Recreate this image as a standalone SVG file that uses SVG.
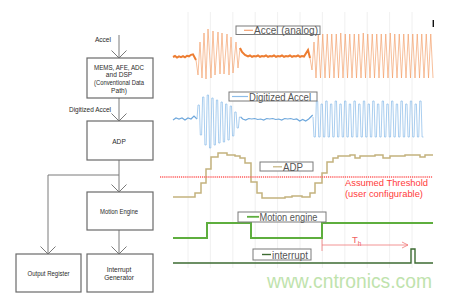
<svg xmlns="http://www.w3.org/2000/svg" width="451" height="299" viewBox="0 0 451 299">
<defs>
<style>
.box{fill:#fff;stroke:#6a6a6a;stroke-width:1.2}
.lt{font-family:"Liberation Sans",Arial,sans-serif;font-size:6.6px;fill:#2a2a2a;text-anchor:middle}
.conn{fill:none;stroke:#7a7a7a;stroke-width:1}
.grid{stroke:#ececec;stroke-width:0.8}
.lg{fill:#fff;stroke:#7a7a7a;stroke-width:1}
.lgt{font-family:"Liberation Sans",Arial,sans-serif;font-size:10.5px;fill:#555}
.ob{fill:none;stroke:#f29a62;stroke-width:0.8;stroke-opacity:0.8}
.bb{fill:none;stroke:#8fbfea;stroke-width:0.9;stroke-opacity:0.85}
.thr{font-family:"Liberation Sans",Arial,sans-serif;font-size:9.5px;fill:#ff3b3b}
</style>
<marker id="chev" markerUnits="userSpaceOnUse" viewBox="-10 -10 20 20" markerWidth="20" markerHeight="20" refX="0" refY="0" orient="auto" overflow="visible">
<path d="M-7.5,-7.5 L0,0 L-7.5,7.5" fill="none" stroke="#7a7a7a" stroke-width="1"/>
</marker>
</defs>
<rect width="451" height="299" fill="#fff"/>

<g id="connectors">
<line class="conn" x1="119" y1="35" x2="119" y2="58" marker-end="url(#chev)"/>
<line class="conn" x1="119" y1="98" x2="119" y2="121" marker-end="url(#chev)"/>
<line class="conn" x1="119" y1="160" x2="119" y2="192" marker-end="url(#chev)"/>
<polyline class="conn" points="119,175 48,175 48,254" marker-end="url(#chev)"/>
<line class="conn" x1="119" y1="230" x2="119" y2="254" marker-end="url(#chev)"/>
<text class="lt" x="111" y="41.5" style="text-anchor:end">Accel</text>
<text class="lt" x="111" y="112" style="text-anchor:end" textLength="42" lengthAdjust="spacingAndGlyphs">Digitized Accel</text>
</g>

<g id="node-mems">
<rect class="box" x="87" y="58" width="66" height="40"/>
<text class="lt" x="119" y="69.5" textLength="50" lengthAdjust="spacingAndGlyphs">MEMS, AFE, ADC</text>
<text class="lt" x="119" y="77.3">and DSP</text>
<text class="lt" x="119" y="85" textLength="50" lengthAdjust="spacingAndGlyphs">(Conventional Data</text>
<text class="lt" x="119" y="92.7">Path)</text>
</g>
<g id="node-adp">
<rect class="box" x="87" y="121" width="66" height="39"/>
<text class="lt" x="119" y="144">ADP</text>
</g>
<g id="node-motion">
<rect class="box" x="87" y="192" width="66" height="38"/>
<text class="lt" x="119" y="214" textLength="38" lengthAdjust="spacingAndGlyphs">Motion Engine</text>
</g>
<g id="node-outreg">
<rect class="box" x="16" y="254" width="65" height="38"/>
<text class="lt" x="48.5" y="276" textLength="42" lengthAdjust="spacingAndGlyphs">Output Register</text>
</g>
<g id="node-intgen">
<rect class="box" x="87" y="254" width="66" height="38"/>
<text class="lt" x="119" y="271.5">Interrupt</text>
<text class="lt" x="119" y="279.5">Generator</text>
</g>

<g id="chart">
<g id="grid">
<line class="grid" x1="188" y1="12" x2="188" y2="268"/>
<line class="grid" x1="210.4" y1="12" x2="210.4" y2="268"/>
<line class="grid" x1="232.8" y1="12" x2="232.8" y2="268"/>
<line class="grid" x1="255.2" y1="12" x2="255.2" y2="268"/>
<line class="grid" x1="277.6" y1="12" x2="277.6" y2="268"/>
<line class="grid" x1="300" y1="12" x2="300" y2="268"/>
<line class="grid" x1="322.4" y1="12" x2="322.4" y2="268"/>
<line class="grid" x1="344.8" y1="12" x2="344.8" y2="268"/>
<line class="grid" x1="367.2" y1="12" x2="367.2" y2="268"/>
<line class="grid" x1="389.6" y1="12" x2="389.6" y2="268"/>
<line class="grid" x1="412" y1="12" x2="412" y2="268"/>
</g>

<line x1="433.3" y1="20" x2="433.3" y2="27" stroke="#111" stroke-width="1.4"/>

<!-- Accel analog -->
<path d="M173,57 l2,-1 l2,1.5 l2,-1.2 l2,0.8 l2,-1 l2,1.2 l2,-1.5 l2,0.5 l2,-1.5 l2,-0.5 L196,60" fill="none" stroke="#ed7d31" stroke-width="2"/>
<path class="ob" d="M196,60 L198,75 L200,42 L202,78 L204,33 L206,79 L208,29 L211,78 L213,31 L215,75 L218,32 L220,74 L222,33 L224,74 L227,34 L229,75 L231,37 L233,73 L236,42 L238,68 L240,48"/>
<path d="M240,48 L242,52 L245,55 L248,56.5 l2,-1 l2,1.3 l2,-0.8 l2,0.5 l2,-1 l2,1.3 l2,-0.8 l2,0.5 l2,-1 l2,1.3 l2,-0.8 l2,0.5 l2,-1 l2,1.3 l2,-0.8 l2,0.5 l2,-1 l2,1.3 l2,-0.8 l2,0.5 l2,-1 l2,1.3 l2,-0.8 l2,0.5 l2,-1 l2,1.3 l2,-0.8 l2,0.5 L308,50 L310,58" fill="none" stroke="#ed7d31" stroke-width="2"/>
<path class="ob" d="M310,58 L312,70 L314,42 L316,78 l2.25,-44 l2.25,44 l2.25,-44 l2.25,44 l2.25,-44 l2.25,44 l2.25,-44 l2.25,44 l2.25,-44 l2.25,44 l2.25,-45 l2.25,45 l2.25,-44 l2.25,44 l2.25,-44 l2.25,44 l2.25,-44 l2.25,44 l2.25,-44 l2.25,44 l2.25,-45 l2.25,45 l2.25,-44 l2.25,44 l2.25,-44 l2.25,44 l2.25,-44 l2.25,44 l2.25,-44 l2.25,44 l2.25,-44 l2.25,44 l2.25,-45 l2.25,45 l2.25,-44 l2.25,44 l2.25,-44 l2.25,44 l2.25,-44 l2.25,44 l2.25,-44 l2.25,44 l2.25,-44 l2.25,44 l2.25,-44 l2.25,44 l2.25,-44 l2.25,44 l2.25,-44 l2.25,44 l2.25,-44 l2.25,44"/>
<g id="legend-accel">
<rect class="lg" x="236" y="26" width="84" height="8.5"/>
<line x1="244" y1="30.3" x2="253" y2="30.3" stroke="#f4a070" stroke-width="1.2"/>
<text class="lgt" x="254" y="34" textLength="64" lengthAdjust="spacingAndGlyphs">Accel (analog)</text>
</g>

<!-- Digitized Accel -->
<path d="M173,120 l3,-2 l3,1 l3,-1 l3,2 l3,-2 l3,1 l3,-3 l3,3" fill="none" stroke="#6fa8dc" stroke-width="1.2"/>
<path class="bb" d="M197,119 l1,-14 h1.3 l1,30 h1.3 l1,-38 h1.3 l1,48 h1.3 l1,-50 h1.3 l1,53 h1.3 l1,-50 h1.3 l1,47 h1.3 l1,-45 h1.3 l1,43 h1.3 l1,-41 h1.3 l1,40 h1.3 l1,-38 h1.3 l1,36 h1.3 l1,-34 h1.3 l1,30 h1.3 l1,-24 h1.3 l1,16 h1.3 l1,-11 h1.3"/>
<path d="M240.7,117 l2,2 l3,1 l3,-1.5 l3,0.5 l3,-0.5 l3,1 l3,-0.5 l3,1 l3,-1.5 l3,0.5 l3,-0.5 l3,1 l3,-0.5 l3,1 l3,-1.5 l3,0.5 l3,-0.5 l3,1 l3,-0.5 l3,2 l3,-1.5 l3,1.5 l3,-2 l3,-3 l1,-1" fill="none" stroke="#6fa8dc" stroke-width="1.2"/>
<path class="bb" d="M313,117 l1,20 h1.35 l1,-36 h1.35 l1,36 h1.35 l1,-33 h1.35 l1,33 h1.35 l1,-36 h1.35 l1,36 h1.35 l1,-33 h1.35 l1,33 h1.35 l1,-36 h1.35 l1,36 h1.35 l1,-33 h1.35 l1,33 h1.35 l1,-36 h1.35 l1,36 h1.35 l1,-33 h1.35 l1,33 h1.35 l1,-36 h1.35 l1,36 h1.35 l1,-33 h1.35 l1,33 h1.35 l1,-36 h1.35 l1,36 h1.35 l1,-33 h1.35 l1,33 h1.35 l1,-36 h1.35 l1,36 h1.35 l1,-33 h1.35 l1,33 h1.35 l1,-36 h1.35 l1,36 h1.35 l1,-33 h1.35 l1,33 h1.35 l1,-36 h1.35 l1,36 h1.35 l1,-33 h1.35 l1,33 h1.35 l1,-36 h1.35 l1,36 h1.35 l1,-33 h1.35 l1,33 h1.35 l1,-36 h1.35 l1,36 h1.35 l1,-33 h1.35 l1,33 h1.35 l1,-36 h1.35 l1,36 h1.35"/>
<g id="legend-digitized">
<rect class="lg" x="229" y="92" width="88" height="9"/>
<line x1="232" y1="96.5" x2="248" y2="96.5" stroke="#8dbce8" stroke-width="1.2"/>
<text class="lgt" x="249" y="100.6" textLength="62" lengthAdjust="spacingAndGlyphs">Digitized Accel</text>
</g>

<!-- ADP -->
<path d="M173,197 H195 V193 H201 V183 H206 V169 H211 V157 H218 V153 H227 V155 H235 V156 H240 V158 H245 V163 H251 V182 H257 V193 H262 V198 H285 V197 H292 V196 H302 V197 H310 V193 H315 V183 H322 V173 H327 V162 H333 V158 H338 V156 H350 V155 H355 V158 H360 V156 H375 V155 H383 V158 H390 V156 H405 V155 H420 V157 H425 V155 H433" fill="none" stroke="#c4b27e" stroke-width="1.5"/>
<g id="legend-adp">
<rect class="lg" x="260" y="162" width="53" height="9"/>
<line x1="273" y1="166.8" x2="282" y2="166.8" stroke="#c4b27e" stroke-width="1.2"/>
<text class="lgt" x="283" y="170.8" textLength="20" lengthAdjust="spacingAndGlyphs">ADP</text>
</g>

<!-- threshold -->
<line x1="160" y1="177" x2="433" y2="177" stroke="#ff5b5b" stroke-width="1.5" stroke-dasharray="1.2,0.9"/>
<text class="thr" x="345" y="185.5" textLength="83" lengthAdjust="spacingAndGlyphs">Assumed Threshold</text>
<text class="thr" x="345" y="196.5" textLength="78" lengthAdjust="spacingAndGlyphs">(user configurable)</text>

<!-- Motion engine -->
<path d="M173,238 H207 V223 H251 V238 H322 V223 H433" fill="none" stroke="#5eae3e" stroke-width="2"/>
<g id="legend-motion">
<rect class="lg" x="238" y="212" width="88" height="10"/>
<line x1="247" y1="216.8" x2="259" y2="216.8" stroke="#5eae3e" stroke-width="1.8"/>
<text class="lgt" x="259.5" y="221" textLength="58" lengthAdjust="spacingAndGlyphs">Motion engine</text>
</g>

<!-- Th -->
<line x1="322" y1="239" x2="322" y2="251" stroke="#f07878" stroke-width="0.8"/>
<line x1="322" y1="245" x2="408" y2="245" stroke="#f07878" stroke-width="0.8"/>
<polyline points="402,242 408,245 402,248" fill="none" stroke="#f07878" stroke-width="0.8"/>
<text x="352" y="242.5" font-family="Liberation Sans, Arial, sans-serif" font-size="9.5" fill="#f06060">T<tspan font-size="6.5" dy="3">h</tspan></text>

<!-- interrupt -->
<path d="M173,263 H411 V249 H415 V263 H433" fill="none" stroke="#3d6b32" stroke-width="1.4"/>
<g id="legend-interrupt">
<rect class="lg" x="253" y="249" width="58" height="11"/>
<line x1="262" y1="254.5" x2="271" y2="254.5" stroke="#3d6b32" stroke-width="1.4"/>
<text class="lgt" x="272" y="258.6" textLength="36" lengthAdjust="spacingAndGlyphs">interrupt</text>
</g>
</g>

<text x="267" y="288" font-family="Liberation Sans, Arial, sans-serif" font-size="19.5" fill="#bfe3ad" textLength="165" lengthAdjust="spacingAndGlyphs">www.cntronics.com</text>
</svg>
